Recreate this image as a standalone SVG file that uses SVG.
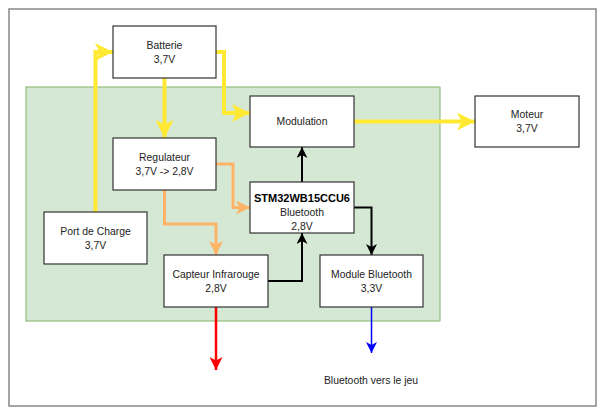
<svg xmlns="http://www.w3.org/2000/svg" width="605" height="415" viewBox="0 0 605 415">
<style>
.box{fill:#ffffff;stroke:#333333;stroke-width:1.2}
.t{font-family:"Liberation Sans",Arial,sans-serif;font-size:10.4px;fill:#222222;text-anchor:middle}
.b{font-weight:bold;font-size:11px;fill:#000000}
.y{fill:none;stroke:#FFE933;stroke-width:4}
.o{fill:none;stroke:#FFB366;stroke-width:3}
.k{fill:none;stroke:#000000;stroke-width:2}
.r{fill:none;stroke:#FF0000;stroke-width:2.5}
.bl{fill:none;stroke:#0000FF;stroke-width:1.5}
</style>
<defs>
<marker id="ay" markerUnits="userSpaceOnUse" markerWidth="18" markerHeight="18" viewBox="0 0 16 16" refX="16" refY="8" orient="auto"><path d="M0,0 L16,8 L0,16 L4,8 z" fill="#FFE933"/></marker>
<marker id="ao" markerUnits="userSpaceOnUse" markerWidth="14" markerHeight="14" viewBox="0 0 14 14" refX="14" refY="7" orient="auto"><path d="M0,0 L14,7 L0,14 L3.5,7 z" fill="#FFB366"/></marker>
<marker id="ak" markerUnits="userSpaceOnUse" markerWidth="11" markerHeight="11" viewBox="0 0 11 11" refX="11" refY="5.5" orient="auto"><path d="M0,0 L11,5.5 L0,11 L3,5.5 z" fill="#000000"/></marker>
<marker id="ar" markerUnits="userSpaceOnUse" markerWidth="13" markerHeight="13" viewBox="0 0 13 13" refX="13" refY="6.5" orient="auto"><path d="M0,0 L13,6.5 L0,13 L3.5,6.5 z" fill="#FF0000"/></marker>
<marker id="ab" markerUnits="userSpaceOnUse" markerWidth="11" markerHeight="11" viewBox="0 0 11 11" refX="11" refY="5.5" orient="auto"><path d="M0,0 L11,5.5 L0,11 L3,5.5 z" fill="#0000FF"/></marker>
</defs>
<rect x="0" y="0" width="605" height="415" fill="#ffffff"/>
<rect id="frame" x="9" y="9" width="587" height="397" fill="#ffffff" stroke="#888888" stroke-width="1.5"/>
<rect id="container" x="26" y="87" width="414" height="234" fill="#d5e8d4" stroke="#82b366" stroke-width="1"/>
<g id="connectors">
<path class="y" d="M164.5,78 L164.5,138" marker-end="url(#ay)"/>
<path class="y" d="M216,52 L224,52 L224,113 L250,113" marker-end="url(#ay)"/>
<path class="y" d="M95.5,212 L95.5,52 L113,52" marker-end="url(#ay)"/>
<path class="y" d="M354,121.5 L475,121.5" marker-end="url(#ay)"/>
<path class="o" d="M216,164 L233,164 L233,207.5 L250,207.5" marker-end="url(#ao)"/>
<path class="o" d="M164.5,190 L164.5,224 L216,224 L216,255" marker-end="url(#ao)"/>
<path class="k" d="M268,281 L302,281 L302,233" marker-end="url(#ak)"/>
<path class="k" d="M302,182 L302,147" marker-end="url(#ak)"/>
<path class="k" d="M354,207.5 L371.5,207.5 L371.5,255" marker-end="url(#ak)"/>
<path class="r" d="M216,307 L216,370" marker-end="url(#ar)"/>
<path class="bl" d="M371.5,307 L371.5,353" marker-end="url(#ab)"/>
</g>
<g id="batterie"><rect class="box" x="113" y="26" width="103" height="52"/><text class="t" x="164.5" y="49">Batterie</text><text class="t" x="164.5" y="63">3,7V</text></g>
<g id="modulation"><rect class="box" x="250" y="96" width="104" height="51"/><text class="t" x="302" y="125">Modulation</text></g>
<g id="moteur"><rect class="box" x="475" y="96" width="104" height="51"/><text class="t" x="527" y="118">Moteur</text><text class="t" x="527" y="132">3,7V</text></g>
<g id="regulateur"><rect class="box" x="113" y="138" width="103" height="52"/><text class="t" x="164.5" y="161">Regulateur</text><text class="t" x="164.5" y="175">3,7V -&gt; 2,8V</text></g>
<g id="stm32"><rect class="box" x="250" y="182" width="104" height="51"/><text class="t b" x="302" y="202">STM32WB15CCU6</text><text class="t" x="302" y="216">Bluetooth</text><text class="t" x="302" y="230">2,8V</text></g>
<g id="port"><rect class="box" x="44" y="212" width="103" height="52"/><text class="t" x="95.5" y="235">Port de Charge</text><text class="t" x="95.5" y="249">3,7V</text></g>
<g id="capteur"><rect class="box" x="164" y="255" width="104" height="52"/><text class="t" x="216" y="278">Capteur Infrarouge</text><text class="t" x="216" y="292">2,8V</text></g>
<g id="module"><rect class="box" x="320" y="255" width="103" height="52"/><text class="t" x="371.5" y="278">Module Bluetooth</text><text class="t" x="371.5" y="292">3,3V</text></g>
<g id="label"><text class="t" x="371" y="384">Bluetooth vers le jeu</text></g>
</svg>
